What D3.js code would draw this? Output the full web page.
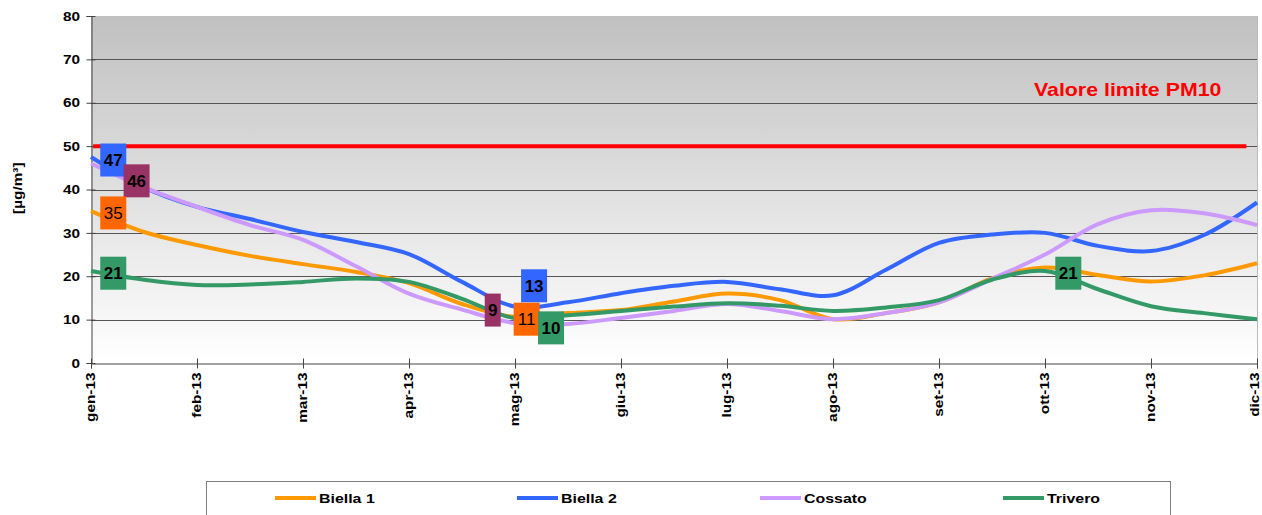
<!DOCTYPE html>
<html>
<head>
<meta charset="utf-8">
<script src="https://cdn.jsdelivr.net/npm/d3@7"></script>
<style>
  body { margin: 0; background: #fff; }
  svg { display: block; font-family: Arial, "Liberation Sans", sans-serif; }
</style>
</head>
<body>
<div id="chart"></div>
<script>
// months shown on the x axis
const months = ["gen-13", "feb-13", "mar-13", "apr-13", "mag-13", "giu-13",
                "lug-13", "ago-13", "set-13", "ott-13", "nov-13", "dic-13"];

// readings every half month, from gen-13 to dic-13
const steps = d3.range(0, 11.01, 0.5);
const biella1 = [35, 30.2, 27.2, 24.7, 22.8, 21, 18.4, 13.6, 10.6, 11.5, 12.2, 14.2,
                 16, 14.5, 10.1, 11.5, 14, 19.5, 22, 20.3, 18.8, 20.2, 23];
const biella2 = [47.5, 40.5, 36, 33.2, 30.2, 27.9, 25.1, 18.7, 13, 14, 16.1, 17.8,
                 18.7, 17, 15.6, 21.5, 27.7, 29.6, 30, 27, 25.8, 29.5, 37];
const cossato = [46, 40.5, 36, 31.8, 28.4, 22.3, 16, 12.3, 9.2, 9, 10.4, 12,
                 13.6, 12, 10.1, 11.5, 14, 19.4, 25, 32, 35.2, 34.5, 31.8];
const trivero = [21.2, 19.2, 18, 18.1, 18.7, 19.5, 18.7, 14.8, 10.3, 11, 12, 13,
                 13.8, 13.2, 12, 12.8, 14.5, 19.2, 21.2, 17, 13.1, 11.5, 10.1];

const seriesNames = ["Biella 1", "Biella 2", "Cossato", "Trivero"];
const seriesValues = [biella1, biella2, cossato, trivero];
const seriesColors = ["#FF9900", "#3366FF", "#CC99FF", "#339966"];

const limitValue = 50;
const limitText = "Valore limite PM10";

// value boxes: month position, anchor value, shown text
const labelMonth = [0.21, 0.43, 0.21, 0.21, 3.79, 4.18, 4.11, 4.34, 9.22];
const labelAt    = [46.8, 42, 34.6, 20.7, 12.2, 17.8, 10.1, 8.1, 20.7];
const labelText  = ["47", "46", "35", "21", "9", "13", "11", "10", "21"];
const labelColor = ["#3366FF", "#993366", "#FF6600", "#339966", "#993366",
                    "#3366FF", "#FF6600", "#339966", "#339966"];
const labelBold  = [true, true, false, true, true, true, false, true, true];

const yTicks = d3.range(0, 81, 10);

const width = 1262, height = 515;
const margin = { left: 91, right: 5, top: 16, bottom: 152 };
const stretch = 1.18; // the original text is a bit wider than the font

const svg = d3.select("#chart").append("svg")
  .attr("width", width).attr("height", height);

const x = d3.scaleLinear().domain([0, months.length - 1])
  .range([margin.left, width - margin.right]);
const y = d3.scaleLinear().domain([0, 80])
  .range([height - margin.bottom, margin.top]);

// background gradient
const grad = svg.append("defs").append("linearGradient")
  .attr("id", "bg").attr("x1", 0).attr("y1", 0).attr("x2", 0).attr("y2", 1);
grad.append("stop").attr("offset", "0%").attr("stop-color", "#c0c0c0");
grad.append("stop").attr("offset", "100%").attr("stop-color", "#ffffff");

svg.append("rect")
  .attr("x", x(0)).attr("y", y(80))
  .attr("width", x(11) - x(0)).attr("height", y(0) - y(80))
  .attr("fill", "url(#bg)");

// grid lines
svg.append("g").selectAll("line").data(yTicks.filter(d => d > 0 && d < 80)).join("line")
  .attr("x1", x(0)).attr("x2", x(11))
  .attr("y1", d => Math.round(y(d)) + 0.5).attr("y2", d => Math.round(y(d)) + 0.5)
  .attr("stroke", "#555").attr("stroke-width", 1);

// right border
svg.append("line")
  .attr("x1", x(11) + 0.5).attr("x2", x(11) + 0.5)
  .attr("y1", y(80)).attr("y2", y(0))
  .attr("stroke", "#bbb");

// y axis
const yAxis = svg.append("g")
  .attr("transform", `translate(${x(0) + 0.5},0)`)
  .call(d3.axisLeft(y).tickValues(yTicks).tickSize(5));
yAxis.select(".domain").attr("stroke", "#444");
yAxis.selectAll(".tick line").attr("x2", 4).attr("x1", -5).attr("stroke", "#444");
yAxis.selectAll(".tick text")
  .attr("font-size", 13).attr("font-weight", "bold").attr("fill", "#000")
  .attr("font-family", "Arial, 'Liberation Sans', sans-serif")
  .attr("x", 0)
  .attr("transform", `translate(-11.5,0) scale(${stretch},1)`);

// x axis
const xAxis = svg.append("g")
  .attr("transform", `translate(0,${Math.round(y(0)) + 0.5})`)
  .call(d3.axisBottom(x).tickValues(d3.range(months.length))
    .tickFormat(i => months[i]).tickSize(5));
xAxis.select(".domain").attr("stroke", "#444");
xAxis.selectAll(".tick line").attr("y1", -5).attr("y2", 5).attr("stroke", "#444");
xAxis.selectAll(".tick text")
  .attr("font-size", 13).attr("font-weight", "bold").attr("fill", "#000")
  .attr("font-family", "Arial, 'Liberation Sans', sans-serif")
  .attr("text-anchor", "end")
  .attr("transform", `rotate(-90) scale(${stretch},1)`)
  .attr("x", -9 / stretch)
  .attr("y", (d, i) => i === months.length - 1 ? 1.5 : 3.5)
  .attr("dy", 0);

// y axis title
svg.append("text")
  .attr("transform", `translate(21.5,${y(40.3)}) rotate(-90) scale(${stretch},1)`)
  .attr("text-anchor", "middle")
  .attr("font-size", 13).attr("font-weight", "bold")
  .text("[µg/m³]");

// series lines
const line = d3.line()
  .x((d, i) => x(steps[i]))
  .y(d => y(d))
  .curve(d3.curveCatmullRom.alpha(0.5));

svg.append("g").selectAll("path").data(seriesValues).join("path")
  .attr("d", line)
  .attr("fill", "none")
  .attr("stroke", (d, i) => seriesColors[i])
  .attr("stroke-width", 4)
  .attr("stroke-linejoin", "round");

// limit line
svg.append("line")
  .attr("x1", x(0.02)).attr("x2", x(10.9))
  .attr("y1", y(limitValue)).attr("y2", y(limitValue))
  .attr("stroke", "#FF0000").attr("stroke-width", 4);

svg.append("text")
  .attr("transform", `translate(${x(9.78)},${y(61.6)}) scale(1.22,1)`)
  .attr("text-anchor", "middle")
  .attr("font-size", 17.5).attr("font-weight", "bold")
  .attr("fill", "#FF0000")
  .text(limitText);

// value boxes
const boxes = svg.append("g").selectAll("g").data(labelText).join("g")
  .attr("transform", (d, i) => `translate(${x(labelMonth[i])},${y(labelAt[i])})`);
boxes.append("rect")
  .attr("x", d => d.length > 1 ? -13 : -8)
  .attr("width", d => d.length > 1 ? 26 : 16)
  .attr("y", -16.5).attr("height", 33)
  .attr("fill", (d, i) => labelColor[i]);
boxes.append("text")
  .attr("text-anchor", "middle").attr("dy", "0.36em")
  .attr("font-size", 17)
  .attr("font-weight", (d, i) => labelBold[i] ? "bold" : "normal")
  .attr("fill", "#000")
  .text(d => d);

// legend
const legend = svg.append("g");
legend.append("rect")
  .attr("x", 206.5).attr("y", 481.5).attr("width", 964).attr("height", 60)
  .attr("fill", "#fff").attr("stroke", "#808080");
const legendX = [275, 517, 760, 1003];
const items = legend.selectAll("g").data(seriesNames).join("g")
  .attr("transform", (d, i) => `translate(${legendX[i]},498)`);
items.append("line")
  .attr("x1", 0).attr("x2", 41)
  .attr("stroke", (d, i) => seriesColors[i]).attr("stroke-width", 4);
items.append("text")
  .attr("transform", `translate(44,0) scale(${stretch},1)`)
  .attr("dy", "0.35em")
  .attr("font-size", 13.5).attr("font-weight", "bold")
  .text(d => d);
</script>
</body>
</html>
